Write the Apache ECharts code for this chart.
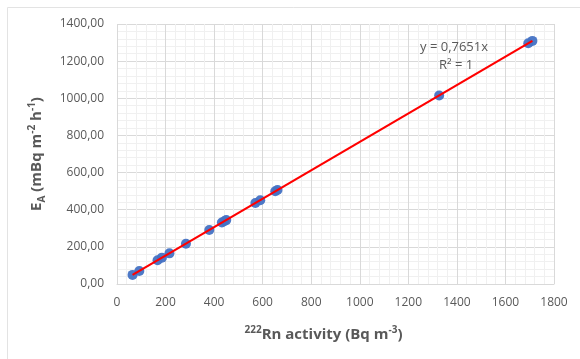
<!DOCTYPE html>
<html>
<head>
<meta charset="utf-8">
<script src="https://cdn.jsdelivr.net/npm/echarts@6/dist/echarts.min.js"></script>
<style>
  html, body { margin: 0; padding: 0; background: #fff; }
  #chart { width: 580px; height: 359px; }
</style>
</head>
<body>
<div id="chart"></div>
<script>
// radon activity (Bq m-3) vs exhalation rate EA (mBq m-2 h-1)
const rnActivity = [64, 92, 167, 185, 216, 284, 380, 432, 442, 450, 570, 590, 652, 661, 1327, 1694, 1711];
const exhalation = [49, 70, 128, 142, 165, 217, 291, 331, 338, 344, 436, 451, 499, 506, 1015, 1296, 1309];

// linear trendline through origin, drawn over the data range
const trendX = [64, 1711];
const trendY = [49, 1309];

const fontFam = "'Open Sans', 'Liberation Sans', sans-serif";
const textGray = "#595959";

const chart = echarts.init(document.getElementById("chart"));

const option = {
  animation: false,
  backgroundColor: "#fff",
  grid: { left: 117, right: 26, top: 24, bottom: 75 },
  xAxis: {
    type: "value",
    min: 0,
    max: 1800,
    interval: 200,
    name: "{sup|222}Rn activity (Bq m{sup|-3})",
    nameLocation: "middle",
    nameGap: 41,
    nameTextStyle: {
      fontFamily: fontFam,
      fontSize: 15,
      fontWeight: "bold",
      color: textGray,
      lineHeight: 20,
      padding: [0, 24, 0, 0],
      rich: {
        sup: { fontSize: 10, fontWeight: "bold", color: textGray, verticalAlign: "top", lineHeight: 12, fontFamily: fontFam }
      }
    },
    axisLine: { show: true, lineStyle: { color: "#d9d9d9" } },
    axisTick: { show: false },
    axisLabel: { color: textGray, fontFamily: fontFam, fontSize: 12, margin: 13, formatter: v => String(v) },
    splitLine: { show: true, lineStyle: { color: "#d9d9d9", width: 1 } },
    minorTick: { show: false, splitNumber: 5 },
    minorSplitLine: { show: true, lineStyle: { color: "#f0f0f0", width: 1 } }
  },
  yAxis: {
    type: "value",
    min: 0,
    max: 1400,
    interval: 200,
    name: "E{sub|A} (mBq m{sup|-2} h{sup|-1})",
    nameLocation: "middle",
    nameGap: 70,
    nameRotate: 90,
    nameTextStyle: {
      fontFamily: fontFam,
      fontSize: 15,
      fontWeight: "bold",
      color: textGray,
      lineHeight: 20,
      rich: {
        sup: { fontSize: 10, fontWeight: "bold", color: textGray, verticalAlign: "top", lineHeight: 12, fontFamily: fontFam },
        sub: { fontSize: 10, fontWeight: "bold", color: textGray, verticalAlign: "bottom", lineHeight: 12, fontFamily: fontFam }
      }
    },
    axisLine: { show: false },
    axisTick: { show: false },
    axisLabel: {
      color: textGray,
      fontFamily: fontFam,
      fontSize: 12,
      margin: 13,
      formatter: v => v.toFixed(2).replace(".", ",")
    },
    splitLine: { show: true, lineStyle: { color: "#d9d9d9", width: 1 } },
    minorTick: { show: false, splitNumber: 5 },
    minorSplitLine: { show: true, lineStyle: { color: "#f0f0f0", width: 1 } }
  },
  graphic: [
    { type: "line", z: 100, shape: { x1: 7.5, y1: 7.5, x2: 580, y2: 7.5 }, style: { stroke: "#e3e3e3", lineWidth: 1 } },
    { type: "line", z: 100, shape: { x1: 7.5, y1: 7.5, x2: 7.5, y2: 359 }, style: { stroke: "#e3e3e3", lineWidth: 1 } },
    {
      type: "text", left: 420, top: 41, z: 100,
      style: { text: "y = 0,7651x", fill: textGray, font: "13px " + fontFam }
    },
    {
      type: "text", left: 439, top: 59, z: 100,
      style: { text: "R² = 1", fill: textGray, font: "13px " + fontFam }
    }
  ],
  series: [
    {
      type: "scatter",
      data: rnActivity.map((x, i) => [x, exhalation[i]]),
      symbolSize: 10,
      itemStyle: { color: "#4472c4", opacity: 0.95 },
      z: 2
    },
    {
      type: "line",
      data: trendX.map((x, i) => [x, trendY[i]]),
      symbol: "none",
      lineStyle: { color: "#ff0000", width: 2.2 },
      z: 3
    }
  ]
};

chart.setOption(option);
</script>
</body>
</html>
